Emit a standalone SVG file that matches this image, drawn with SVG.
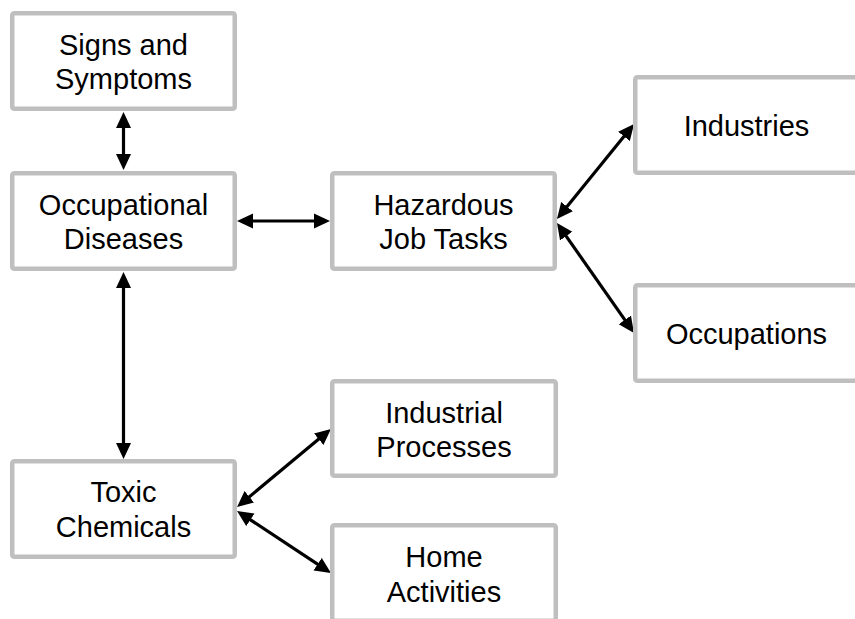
<svg xmlns="http://www.w3.org/2000/svg" width="855" height="619" viewBox="0 0 855 619">
<style>
.box{fill:#fff;stroke:#bfbfbf;stroke-width:4.5}
.lbl{font-family:"Liberation Sans",Arial,sans-serif;font-size:29px;fill:#000;text-anchor:middle}
.con{stroke:#000;stroke-width:3.2;fill:none;marker-start:url(#ah);marker-end:url(#ah)}
</style>
<defs>
<marker id="ah" markerUnits="userSpaceOnUse" markerWidth="16" markerHeight="16" viewBox="0 0 16 16" refX="8" refY="8" orient="auto-start-reverse">
<path d="M0,0.5 L16,8 L0,15.5 z" fill="#000"/>
</marker>
</defs>
<rect width="855" height="619" fill="#fff"/>
<g id="connectors">
<line class="con" x1="123.5" y1="120" x2="123.5" y2="162"/>
<line class="con" x1="245" y1="221" x2="322" y2="221"/>
<line class="con" x1="123.5" y1="280" x2="123.5" y2="451"/>
<line class="con" x1="562" y1="212.8" x2="629" y2="130.2"/>
<line class="con" x1="561.6" y1="229.6" x2="629.4" y2="326.4"/>
<line class="con" x1="243.2" y1="501.9" x2="324.8" y2="434.1"/>
<line class="con" x1="243.7" y1="515.4" x2="324.3" y2="568.6"/>
</g>
<g id="signs">
<rect class="box" x="12.25" y="13.25" width="222.5" height="95.5" rx="2"/>
<text class="lbl" x="123.5" y="55">Signs and</text>
<text class="lbl" x="123.5" y="89">Symptoms</text>
</g>
<g id="occdis">
<rect class="box" x="12.25" y="173.25" width="222.5" height="95.5" rx="2"/>
<text class="lbl" x="123.5" y="215">Occupational</text>
<text class="lbl" x="123.5" y="249">Diseases</text>
</g>
<g id="hazard">
<rect class="box" x="332.25" y="173.25" width="222.5" height="95.5" rx="2"/>
<text class="lbl" x="443.5" y="215">Hazardous</text>
<text class="lbl" x="443.5" y="249">Job Tasks</text>
</g>
<g id="industries">
<rect class="box" x="635.25" y="77.25" width="222.5" height="95.5" rx="2"/>
<text class="lbl" x="746.5" y="136">Industries</text>
</g>
<g id="occupations">
<rect class="box" x="635.25" y="285.25" width="222.5" height="95.5" rx="2"/>
<text class="lbl" x="746.5" y="344">Occupations</text>
</g>
<g id="toxic">
<rect class="box" x="12.25" y="461.25" width="222.5" height="95.5" rx="2"/>
<text class="lbl" x="123.5" y="502">Toxic</text>
<text class="lbl" x="123.5" y="537">Chemicals</text>
</g>
<g id="indproc">
<rect class="box" x="332.25" y="381.25" width="223.5" height="94.5" rx="2"/>
<text class="lbl" x="444" y="423">Industrial</text>
<text class="lbl" x="444" y="457">Processes</text>
</g>
<g id="home">
<rect class="box" x="332.25" y="525.25" width="223.5" height="95.5" rx="2"/>
<text class="lbl" x="444" y="567">Home</text>
<text class="lbl" x="444" y="602">Activities</text>
</g>
</svg>
